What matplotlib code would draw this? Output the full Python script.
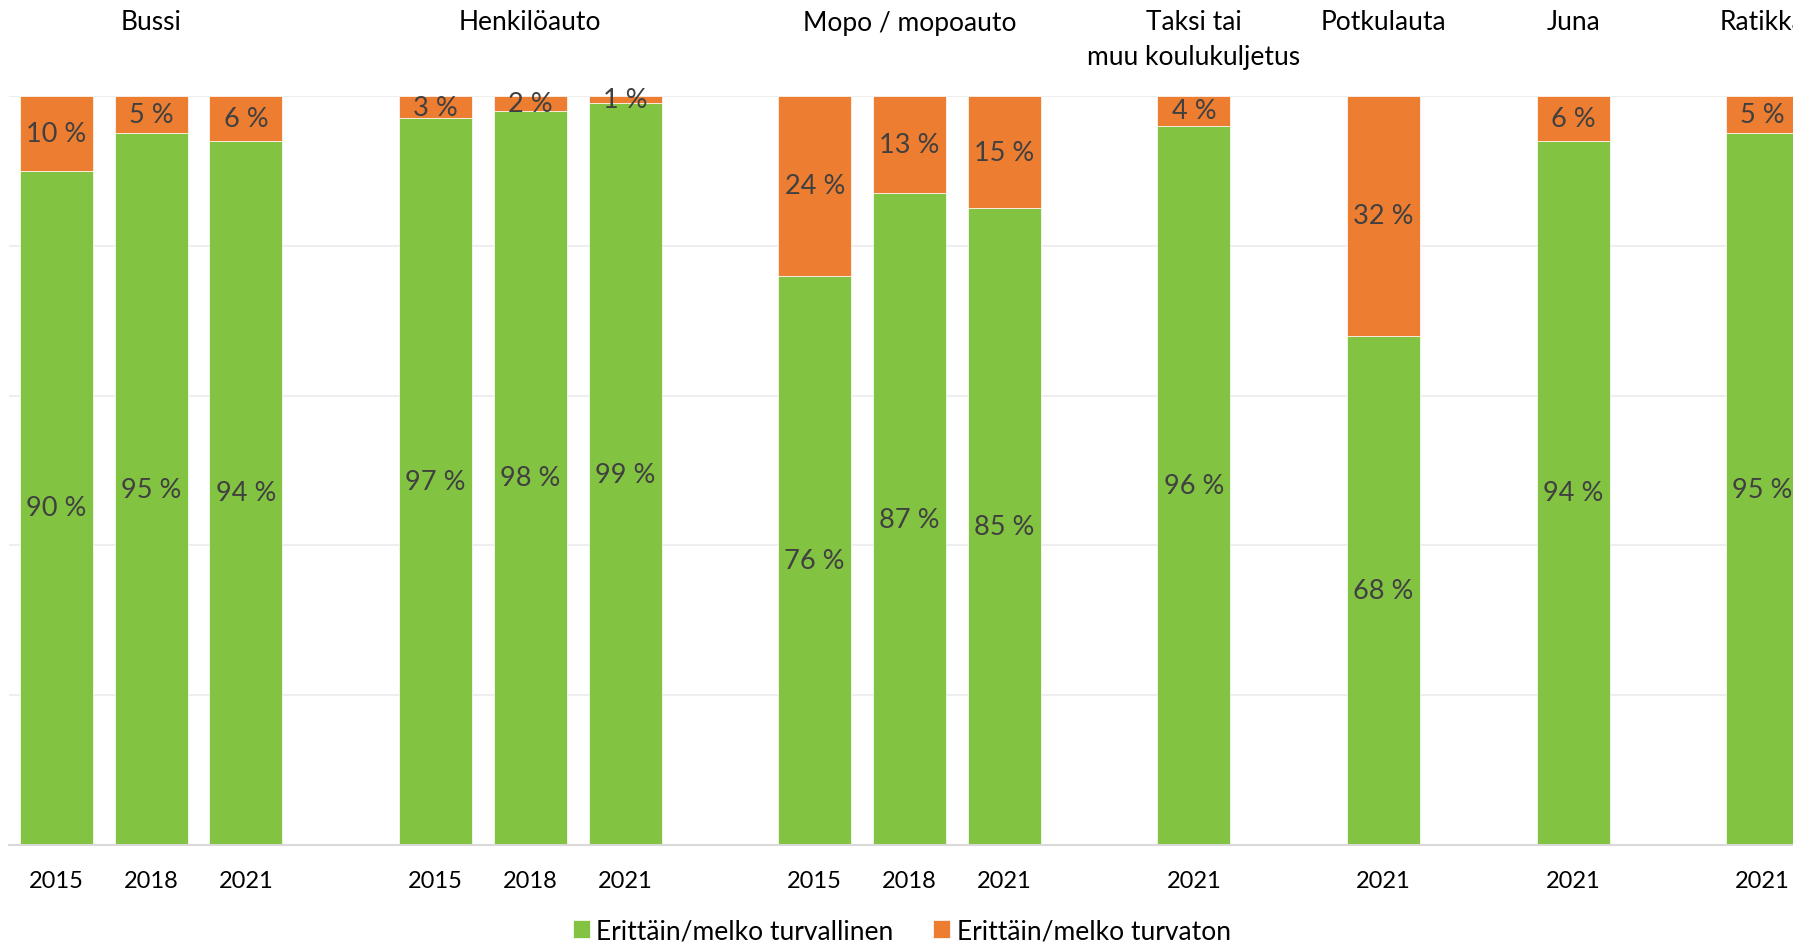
import numpy as np
import matplotlib.pyplot as plt

plt.rcParams["font.family"] = ["Lato", "DejaVu Sans"]

ryhmat = ["Bussi", "Henkilöauto", "Mopo / mopoauto", "Taksi tai\nmuu koulukuljetus",
          "Potkulauta", "Juna", "Ratikka"]
vuodet = [["2015", "2018", "2021"], ["2015", "2018", "2021"], ["2015", "2018", "2021"],
          ["2021"], ["2021"], ["2021"], ["2021"]]
turvallinen = [[90, 95, 94], [97, 98, 99], [76, 87, 85], [96], [68], [94], [95]]
turvaton = [[10, 5, 6], [3, 2, 1], [24, 13, 15], [4], [32], [6], [5]]

vihrea = "#82C341"
oranssi = "#ED7D31"
teksti = "#404040"

# bar positions: groups separated by one empty slot
x, xl, g, t, ryhma_x = [], [], [], [], []
pos = 0
for i in range(len(ryhmat)):
    alku = pos
    for j in range(len(vuodet[i])):
        x.append(pos)
        xl.append(vuodet[i][j])
        g.append(turvallinen[i][j])
        t.append(turvaton[i][j])
        pos += 1
    ryhma_x.append((alku + pos - 1) / 2)
    pos += 1
x = np.array(x)
g = np.array(g, dtype=float)
t = np.array(t, dtype=float)
summa = g + t
gp = g / summa * 100
tp = t / summa * 100

fig = plt.figure(figsize=(17.93, 9.45), dpi=100)
ax = fig.add_axes([9 / 1793, 1 - 846 / 945, 1 - 9 / 1793, (846 - 97) / 945])

for yy in [20, 40, 60, 80, 100]:
    ax.axhline(yy, color="#EBEBEB", linewidth=1.2, zorder=0)

b1 = ax.bar(x, gp, width=0.77, color=vihrea, edgecolor="white", linewidth=0.5,
            label="Erittäin/melko turvallinen", zorder=2)
b2 = ax.bar(x, tp, width=0.77, bottom=gp, color=oranssi, edgecolor="white", linewidth=0.5,
            label="Erittäin/melko turvaton", zorder=2)

for xi, a, b, va, vb in zip(x, gp, tp, g, t):
    ax.text(xi, a / 2, f"{int(va)} %", ha="center", va="center", fontsize=19.5, color=teksti, zorder=3)
    ax.text(xi, a + b / 2, f"{int(vb)} %", ha="center", va="center", fontsize=19.5, color=teksti, zorder=3)

ax.set_xlim(-0.5, 18.32)
ax.set_ylim(0, 100)

# group names above the plot area
for rx, nimi in zip(ryhma_x, ryhmat):
    for k, r in enumerate(nimi.split("\n")):
        ax.annotate(r, xy=(rx, 1), xycoords=("data", "axes fraction"),
                    xytext=(0, (97 - 23 - 34 * k) * 0.72), textcoords="offset points",
                    ha="center", va="center", fontsize=19, color="black",
                    annotation_clip=False)

ax.set_xticks(x)
ax.set_xticklabels(xl, fontsize=17)
ax.tick_params(axis="x", length=0, pad=18)
ax.set_yticks([])
for s in ["top", "left", "right"]:
    ax.spines[s].set_visible(False)
ax.spines["bottom"].set_color("#D9D9D9")
ax.spines["bottom"].set_linewidth(1.5)

fig.legend(handles=[b1, b2], loc="center", bbox_to_anchor=(0.503, 1 - 932 / 945), ncol=2,
           frameon=False, fontsize=19, handlelength=0.65, handleheight=0.65, handletextpad=0.25,
           columnspacing=1.5)

fig.savefig("out.png", dpi=100)
